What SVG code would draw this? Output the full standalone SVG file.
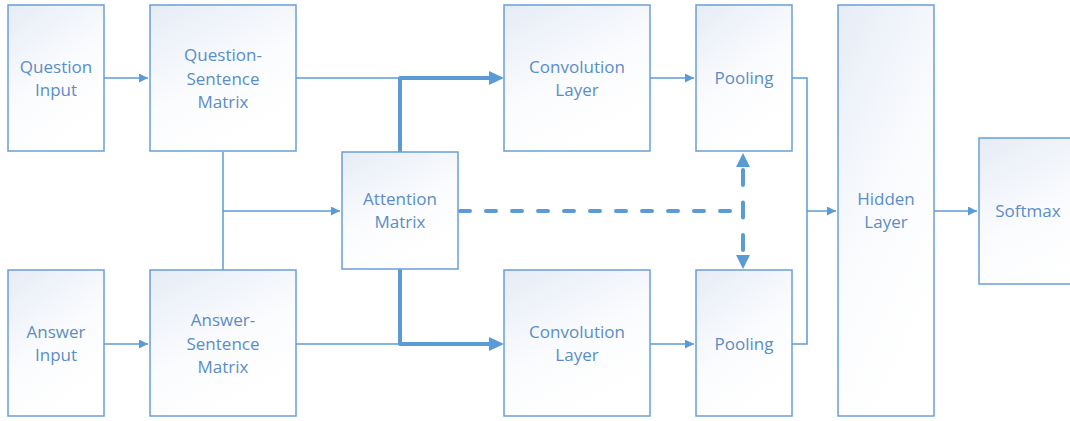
<svg xmlns="http://www.w3.org/2000/svg" width="1070" height="421" viewBox="0 0 1070 421">
<defs>
<linearGradient id="g" x1="0" y1="0" x2="0.5" y2="1">
<stop offset="0" stop-color="#e6ecf6"/>
<stop offset="0.6" stop-color="#fbfcfe"/>
<stop offset="1" stop-color="#ffffff"/>
</linearGradient>
<marker id="a" viewBox="0 0 10 10" refX="10" refY="5" markerWidth="10" markerHeight="9" markerUnits="userSpaceOnUse" orient="auto"><path d="M0,0 L10,5 L0,10 Z" fill="#5b9bd5"/></marker>
</defs>
<style>
.box{fill:url(#g);stroke:#6a9fd6;stroke-width:1.5}
.t{font-family:"Open Sans","Liberation Sans",sans-serif;font-size:17px;fill:#5a8dc7;text-anchor:middle}
.thin{fill:none;stroke:#5b9bd5;stroke-width:1.5}
.thick{fill:none;stroke:#5b9bd5;stroke-width:4;stroke-linejoin:round;stroke-linecap:round}
.dash{fill:none;stroke:#5b9bd5;stroke-width:4;stroke-dasharray:10 16;stroke-linecap:round}
.vdash{fill:none;stroke:#5b9bd5;stroke-width:4;stroke-dasharray:15 17.5;stroke-linecap:round}
</style>
<g id="connectors">
<path class="thin" d="M104,78 H148" marker-end="url(#a)"/>
<path class="thin" d="M104,344 H148" marker-end="url(#a)"/>
<path class="thin" d="M296,78 H400"/>
<path class="thin" d="M296,344 H400"/>
<path class="thin" d="M223,152 V270"/>
<path class="thin" d="M223,211 H340" marker-end="url(#a)"/>
<path class="thick" d="M400,152 V78 H490"/>
<path d="M489,71 L504,78 L489,85 Z" fill="#5b9bd5"/>
<path class="thick" d="M400,270 V344 H490"/>
<path d="M489,337 L504,344 L489,351 Z" fill="#5b9bd5"/>
<path class="thin" d="M650,78 H694" marker-end="url(#a)"/>
<path class="thin" d="M650,344 H694" marker-end="url(#a)"/>
<path class="thin" d="M792,78 H807 V344 H792"/>
<path class="thin" d="M807,211 H836" marker-end="url(#a)"/>
<path class="thin" d="M934,211 H977" marker-end="url(#a)"/>
<path class="dash" d="M460,211 H743"/>
<path class="vdash" d="M743,170 V250"/>
<path d="M736,167 L743,153 L750,167 Z" fill="#5b9bd5"/>
<path d="M736,255 L743,269 L750,255 Z" fill="#5b9bd5"/>
</g>
<g id="question-input"><rect class="box" x="8" y="5" width="96" height="146"/><text class="t" x="56" y="73">Question</text><text class="t" x="56" y="96">Input</text></g>
<g id="question-sentence-matrix"><rect class="box" x="150" y="5" width="146" height="146"/><text class="t" x="223" y="61">Question-</text><text class="t" x="223" y="85">Sentence</text><text class="t" x="223" y="108">Matrix</text></g>
<g id="answer-input"><rect class="box" x="8" y="270" width="96" height="146"/><text class="t" x="56" y="338">Answer</text><text class="t" x="56" y="361">Input</text></g>
<g id="answer-sentence-matrix"><rect class="box" x="150" y="270" width="146" height="146"/><text class="t" x="223" y="326">Answer-</text><text class="t" x="223" y="350">Sentence</text><text class="t" x="223" y="373">Matrix</text></g>
<g id="attention-matrix"><rect class="box" x="342" y="152" width="116" height="117"/><text class="t" x="400" y="205">Attention</text><text class="t" x="400" y="228">Matrix</text></g>
<g id="conv-top"><rect class="box" x="504" y="5" width="146" height="146"/><text class="t" x="577" y="73">Convolution</text><text class="t" x="577" y="96">Layer</text></g>
<g id="conv-bottom"><rect class="box" x="504" y="270" width="146" height="146"/><text class="t" x="577" y="338">Convolution</text><text class="t" x="577" y="361">Layer</text></g>
<g id="pool-top"><rect class="box" x="696" y="5" width="96" height="146"/><text class="t" x="744" y="84">Pooling</text></g>
<g id="pool-bottom"><rect class="box" x="696" y="270" width="96" height="146"/><text class="t" x="744" y="350">Pooling</text></g>
<g id="hidden-layer"><rect class="box" x="838" y="5" width="96" height="411"/><text class="t" x="886" y="205">Hidden</text><text class="t" x="886" y="228">Layer</text></g>
<g id="softmax"><rect class="box" x="979" y="138" width="146" height="146"/><text class="t" x="1028" y="217">Softmax</text></g>
</svg>
